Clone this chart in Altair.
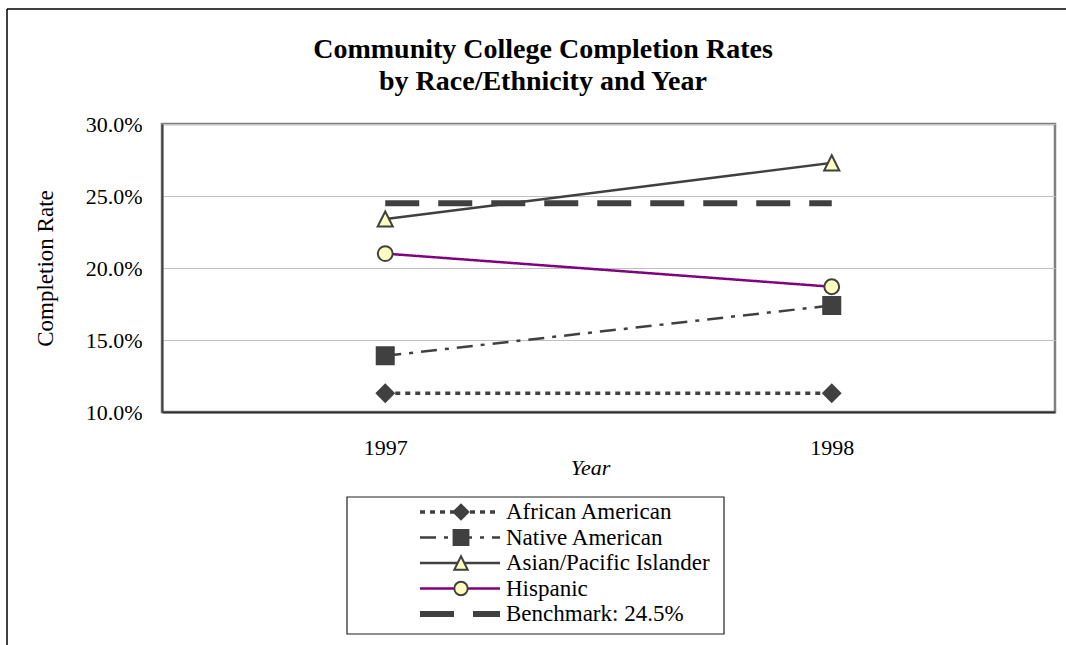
import altair as alt
import pandas as pd

# ---------------- data ----------------
years = ["1997", "1998"]
series = [
    "African American",
    "Native American",
    "Asian/Pacific Islander",
    "Hispanic",
    "Benchmark: 24.5%",
]
african = [0.113, 0.113]
native = [0.139, 0.174]
asian = [0.234, 0.273]
hispanic = [0.210, 0.187]
benchmark = [0.245, 0.245]
y_ticks = [0.10, 0.15, 0.20, 0.25, 0.30]
title_lines = ["Community College Completion Rates", "by Race/Ethnicity and Year"]

values = [african, native, asian, hispanic, benchmark]
rows = []
for s, vals in zip(series, values):
    for yr, v in zip(years, vals):
        rows.append({"series": s, "year": yr, "rate": v})
df = pd.DataFrame(rows)
marker_series = series[:4]
legend_df = pd.DataFrame({"series": series, "idx": list(range(len(series)))})

# ---------------- styles ----------------
FONT = "Liberation Serif"
DARK = "#404040"
line_colors = [DARK, DARK, DARK, "#800080", DARK]
line_dashes = [[5, 5], [16, 8, 4, 8], [1, 0], [1, 0], [34, 19]]
line_widths = [3.5, 2.5, 2.5, 2.5, 6]
shapes = ["diamond", "square", "M0,-1L1,1L-1,1Z", "circle"]
fills = [DARK, DARK, "#FFFFC0", "#FFFFC0"]
sizes = [290, 290, 230, 220]
legend_sizes = [220, 220, 180, 180]

W, H = 893, 288
PAD_L, PAD_T = 162, 124

color_enc = alt.Color("series:N", scale=alt.Scale(domain=series, range=line_colors), legend=None)
dash_enc = alt.StrokeDash("series:N", scale=alt.Scale(domain=series, range=line_dashes), legend=None)
width_enc = alt.StrokeWidth("series:N", scale=alt.Scale(type="ordinal", domain=series, range=line_widths), legend=None)
shape_enc = alt.Shape("series:N", scale=alt.Scale(domain=marker_series, range=shapes), legend=None)
fill_enc = alt.Fill("series:N", scale=alt.Scale(domain=marker_series, range=fills), legend=None)

x_enc = alt.X(
    "year:O",
    scale=alt.Scale(type="point", padding=0.5),
    axis=alt.Axis(
        title="Year",
        labelAngle=0,
        labelFontSize=22,
        labelColor="black",
        labelBaseline="alphabetic",
        labelPadding=42,
        ticks=False,
        tickSize=0,
        grid=False,
        domainColor="#303030",
        domainWidth=2,
        titleFontSize=22,
        titleFontWeight="normal",
        titleFontStyle="italic",
        titleColor="black",
        titleX=428,
        titleY=62,
        titleBaseline="alphabetic",
        titleAlign="center",
    ),
)
y_scale = alt.Scale(domain=[0.10, 0.30], nice=False, zero=False)
y_enc = alt.Y(
    "rate:Q",
    scale=y_scale,
    axis=alt.Axis(
        title="Completion Rate",
        values=y_ticks,
        format=".1%",
        labelFontSize=22,
        labelColor="black",
        labelPadding=20,
        ticks=False,
        tickSize=0,
        domainColor=DARK,
        domainWidth=2,
        gridColor="#C0C0C0",
        gridWidth=1,
        titleFontSize=23,
        titleFontWeight="normal",
        titleColor="black",
        titleAngle=270,
        titleX=-117,
        titleY=144,
        titleBaseline="middle",
        titleAlign="center",
    ),
)

lines = alt.Chart(df).mark_line(strokeCap="butt").encode(
    x=x_enc, y=y_enc, color=color_enc, strokeDash=dash_enc, strokeWidth=width_enc
)
points = (
    alt.Chart(df)
    .transform_filter(alt.FieldOneOfPredicate(field="series", oneOf=marker_series))
    .mark_point(filled=True, stroke=DARK, strokeWidth=2, opacity=1)
    .encode(
        x=x_enc,
        y=y_enc,
        shape=shape_enc,
        fill=fill_enc,
        size=alt.Size("series:N", scale=alt.Scale(type="ordinal", domain=marker_series, range=sizes), legend=None),
    )
)
main = alt.layer(lines, points)

# ---------------- legend (own row scale) ----------------
leg_y = alt.Y("idx:Q", scale=alt.Scale(domain=[0, 4], range=[388, 490]), axis=None)
one = pd.DataFrame({"k": [0]})
leg_box = alt.Chart(one).mark_rect(fill="white", stroke="#202020", strokeWidth=1.2).encode(
    x=alt.value(185), x2=alt.value(562), y=alt.value(373), y2=alt.value(510)
)
leg_lines = alt.Chart(legend_df).mark_rule(strokeCap="butt").encode(
    x=alt.value(258), x2=alt.value(338), y=leg_y,
    color=color_enc, strokeDash=dash_enc, strokeWidth=width_enc,
)
leg_points = (
    alt.Chart(legend_df)
    .transform_filter(alt.FieldOneOfPredicate(field="series", oneOf=marker_series))
    .mark_point(filled=True, stroke=DARK, strokeWidth=2, opacity=1)
    .encode(
        x=alt.value(299), y=leg_y, shape=shape_enc, fill=fill_enc,
        size=alt.Size("series:N", scale=alt.Scale(type="ordinal", domain=marker_series, range=legend_sizes), legend=None),
    )
)
leg_text = alt.Chart(legend_df).mark_text(
    align="left", baseline="middle", font=FONT, fontSize=23, color="black"
).encode(x=alt.value(344), y=leg_y, text="series:N")
legend = alt.layer(leg_box, leg_lines, leg_points, leg_text)

# ---------------- title (text marks) ----------------
title_df = pd.DataFrame({"line": title_lines, "row": [0, 1]})
title = alt.Chart(title_df).mark_text(
    align="center", baseline="alphabetic", font=FONT, fontSize=28, fontWeight="bold", color="black"
).encode(
    x=alt.value(381),
    y=alt.Y("row:Q", scale=alt.Scale(domain=[0, 1], range=[-66, -34]), axis=None),
    text="line:N",
)

# ---------------- outer frame ----------------
frame_left = alt.Chart(one).mark_rule(color="black", strokeWidth=1.5).encode(
    x=alt.value(-155), y=alt.value(-115), y2=alt.value(530)
)
frame_top = alt.Chart(one).mark_rule(color="black", strokeWidth=1.5).encode(
    x=alt.value(-155), x2=alt.value(910), y=alt.value(-115)
)

chart = (
    alt.layer(main, legend, title, frame_left, frame_top)
    .resolve_scale(y="independent", size="independent")
    .properties(
        width=W,
        height=H,
        autosize=alt.AutoSizeParams(type="none"),
        padding={"left": PAD_L, "top": PAD_T, "right": 1066 - PAD_L - W, "bottom": 645 - PAD_T - H},
        background="white",
    )
    .configure_view(stroke="#808080", strokeWidth=2.5)
    .configure_axis(labelFont=FONT, titleFont=FONT)
    .configure_text(font=FONT)
)

chart.save("out.html", embed_options={"renderer": "svg", "actions": False})
